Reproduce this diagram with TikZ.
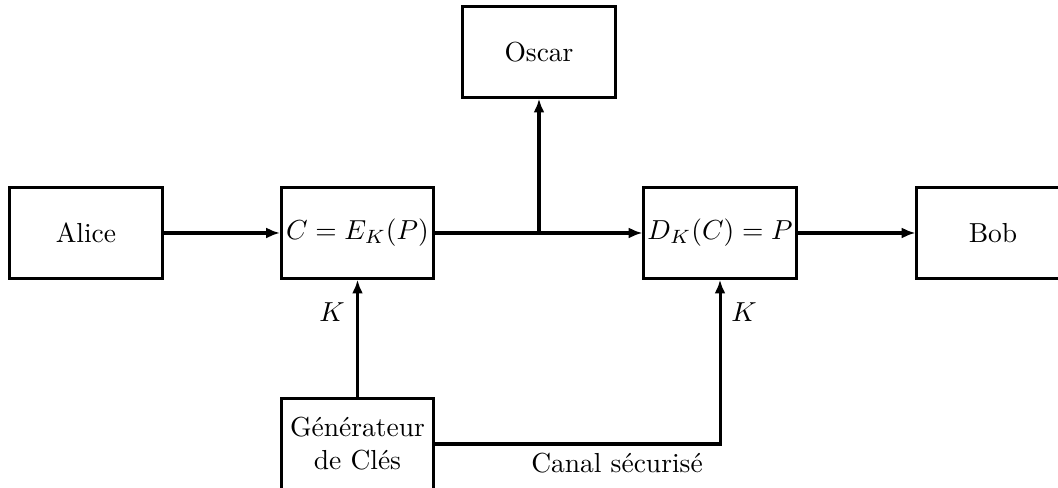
\documentclass[tikz,border=0pt]{standalone}
\usetikzlibrary{arrows.meta}
\begin{document}
\begin{tikzpicture}[x=0.3636pt, y=-0.3636pt,
  blk/.style={draw, line width=1.1pt, minimum width=55.3pt, minimum height=32.9pt, inner sep=1pt, align=center},
  conn/.style={line width=1.1pt, -{Latex[length=5pt,width=4pt]}},
  wire/.style={line width=1.1pt}]
\useasboundingbox (0,0) rectangle (1058,488);
\clip (0,0) rectangle (1058,488);
\node[blk] (alice) at (86,233) {Alice};
\node[blk] (enc) at (357.5,233) {$C = E_K(P)$};
\node[blk] (oscar) at (539,52) {Oscar};
\node[blk] (dec) at (720,233) {$D_K(C) = P$};
\node[blk] (bob) at (993,233) {Bob};
\node[blk] (gen) at (357.5,444) {G\'en\'erateur\\de Cl\'es};
\coordinate (junc) at (539,233);
\draw[conn] (alice.east) -- (enc.west);
\draw[conn] (enc.east) -- (dec.west);
\draw[conn] (junc) -- (oscar.south);
\draw[conn] (dec.east) -- (bob.west);
\draw[conn] (gen.north) -- (enc.south);
\draw[conn] (gen.east) -| (dec.south);
\node (kl) at (332,312) {$K$};
\node (kr) at (744,312) {$K$};
\node (canal) at (617,463) {Canal s\'ecuris\'e};
\end{tikzpicture}
\end{document}
